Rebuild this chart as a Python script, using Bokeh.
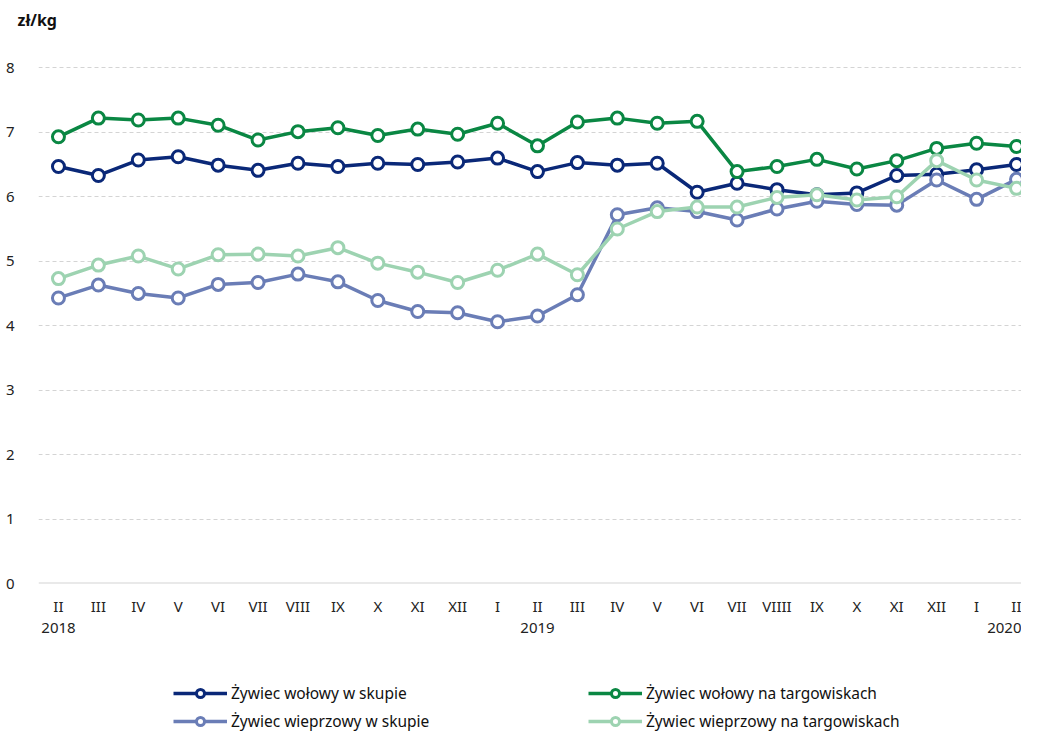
from bokeh.plotting import figure
from bokeh.layouts import column
from bokeh.models import FixedTicker, LinearAxis, Legend, LegendItem, Span, Range1d
from bokeh.embed import file_html
from bokeh.resources import INLINE

months = ["II", "III", "IV", "V", "VI", "VII", "VIII", "IX", "X", "XI", "XII", "I",
          "II", "III", "IV", "V", "VI", "VII", "VIIII", "IX", "X", "XI", "XII", "I", "II"]
year_labels = {0: "2018", 12: "2019", 24: "2020"}

wol_skup = [6.47, 6.33, 6.57, 6.62, 6.49, 6.41, 6.52, 6.47, 6.52, 6.50, 6.54, 6.60,
            6.39, 6.53, 6.49, 6.52, 6.07, 6.21, 6.11, 6.03, 6.06, 6.33, 6.35, 6.42, 6.50]
wol_targ = [6.93, 7.22, 7.19, 7.22, 7.11, 6.88, 7.01, 7.07, 6.95, 7.05, 6.97, 7.14,
            6.79, 7.16, 7.22, 7.14, 7.17, 6.39, 6.47, 6.58, 6.43, 6.56, 6.75, 6.83, 6.78]
wiep_skup = [4.43, 4.63, 4.50, 4.43, 4.64, 4.67, 4.80, 4.68, 4.39, 4.22, 4.20, 4.06,
             4.15, 4.48, 5.72, 5.83, 5.77, 5.64, 5.81, 5.93, 5.88, 5.87, 6.26, 5.96, 6.27]
wiep_targ = [4.73, 4.94, 5.08, 4.88, 5.10, 5.11, 5.08, 5.21, 4.97, 4.83, 4.67, 4.86,
             5.11, 4.79, 5.50, 5.77, 5.84, 5.84, 5.99, 6.03, 5.95, 6.00, 6.56, 6.26, 6.13]

series = [
    ("Żywiec wołowy w skupie", wol_skup, "#0a2878"),
    ("Żywiec wołowy na targowiskach", wol_targ, "#0a8743"),
    ("Żywiec wieprzowy w skupie", wiep_skup, "#6a7db6"),
    ("Żywiec wieprzowy na targowiskach", wiep_targ, "#9dd3b1"),
]

FONT = "Noto Sans"
x = list(range(len(months)))


def strip(height, top=0):
    f = figure(width=1021, height=height, output_backend="svg", toolbar_location=None,
               x_range=Range1d(0, 1), y_range=Range1d(0, 1),
               x_axis_location=None, y_axis_location=None,
               min_border_left=0, min_border_right=0, min_border_top=top, min_border_bottom=0)
    f.grid.visible = False
    f.outline_line_color = None
    return f


# header strip carrying the unit label as its title
hd = strip(40, top=30)
hd.title.text = "zł/kg"
hd.title.text_font = FONT
hd.title.text_font_size = "16px"
hd.title.text_font_style = "bold"
hd.title.text_color = "#111111"
hd.title.align = "left"
hd.title.offset = -21
hd.title.standoff = 0

# main chart
p = figure(width=1021, height=620, output_backend="svg", toolbar_location=None,
           x_range=Range1d(-0.5, 24.125), y_range=Range1d(0, 8.3),
           min_border_left=38, min_border_right=0, min_border_top=8, min_border_bottom=77)
p.outline_line_color = None
p.background_fill_color = "white"

p.yaxis.ticker = FixedTicker(ticks=[0, 1, 2, 3, 4, 5, 6, 7, 8])
p.yaxis.axis_line_color = None
p.yaxis.major_tick_line_color = None
p.yaxis.minor_tick_line_color = None
p.yaxis.major_label_standoff = 18
p.yaxis.major_label_text_font = FONT
p.yaxis.major_label_text_font_size = "15px"
p.yaxis.major_label_text_color = "#222222"

p.xaxis.ticker = FixedTicker(ticks=x)
p.xaxis.major_label_overrides = {i: m for i, m in enumerate(months)}
p.xaxis.axis_line_color = None
p.xaxis.major_tick_line_color = None
p.xaxis.minor_tick_line_color = None
p.xaxis.major_label_standoff = 6
p.xaxis.major_label_text_font = FONT
p.xaxis.major_label_text_font_size = "15px"
p.xaxis.major_label_text_color = "#222222"

yax = LinearAxis(ticker=FixedTicker(ticks=list(year_labels.keys())),
                 major_label_overrides=year_labels)
yax.axis_line_color = None
yax.major_tick_line_color = None
yax.minor_tick_line_color = None
yax.major_label_standoff = -2
yax.major_label_text_font = FONT
yax.major_label_text_font_size = "15px"
yax.major_label_text_color = "#222222"
p.add_layout(yax, "below")

p.xgrid.grid_line_color = None
p.ygrid.ticker = FixedTicker(ticks=[1, 2, 3, 4, 5, 6, 7, 8])
p.ygrid.grid_line_color = "#d4d4d4"
p.ygrid.grid_line_dash = "4 3"
p.ygrid.grid_line_width = 1

p.add_layout(Span(location=0, dimension="width", line_color="#d4d4d4", line_width=2))

for name, vals, color in series:
    p.line(x, vals, line_color=color, line_width=3.5)
    p.scatter(x, vals, size=12, marker="circle", fill_color="white",
              line_color=color, line_width=3)

# legend strip below the chart (its glyphs lie outside the strip's visible range)
lg = strip(73)
items = {}
for name, vals, color in series:
    ln = lg.line(x, vals, line_color=color, line_width=3.5)
    sc = lg.scatter(x, vals, size=12, marker="circle", fill_color="white",
                    line_color=color, line_width=3)
    items[name] = LegendItem(label=name, renderers=[ln, sc])

order = ["Żywiec wołowy w skupie", "Żywiec wołowy na targowiskach",
         "Żywiec wieprzowy w skupie", "Żywiec wieprzowy na targowiskach"]
legend = Legend(items=[items[n] for n in order], orientation="horizontal", ncols=2,
                location=(135, 1), glyph_width=54, glyph_height=20,
                label_standoff=4, label_width=351, label_height=20, spacing=6,
                padding=0, margin=0,
                label_text_font=FONT, label_text_font_size="15.5px",
                label_text_color="#111111", border_line_color=None,
                background_fill_alpha=0)
lg.add_layout(legend, "center")

open("out.html", "w").write(file_html(column(hd, p, lg, spacing=0), INLINE))
